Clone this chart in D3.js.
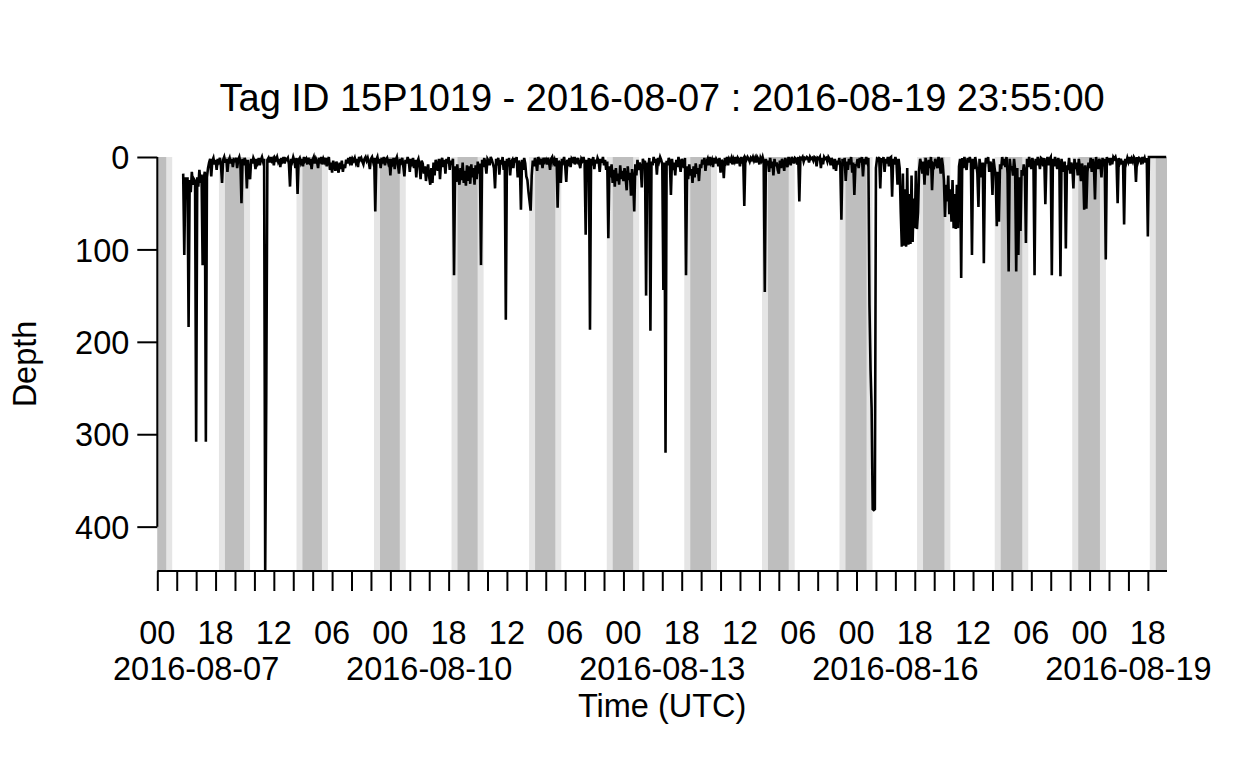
<!DOCTYPE html>
<html>
<head>
<meta charset="utf-8">
<script src="https://cdn.jsdelivr.net/npm/d3@7"></script>
<style>
	body { margin: 0; background: #fff; }
	#chart { width: 1248px; height: 768px; }
	#chart text { font-family: "Liberation Sans", Arial, Helvetica, sans-serif; fill: #000; }
</style>
</head>
<body>
<div id="chart"></div>
<script>
"use strict"

// depth (m) every 20 minutes, one array per UTC day; null = tag not yet recording
const aug07 = [null,null,null,null,null,null,null,null,null,null,null,null,null,null,null,null,null,null,null,null,null,null,null,null,
	18,106,22,35,22,184,25,38,16,30,24,26,308,22,32,14,28,19,117,24,16,308,22,12,
	6,2,21,4,1,8,3,14,2,5,1,9,28,3,0,6,2,16,4,1,7,2,11,3];
const aug08 = [4,1,12,3,0,6,50,2,9,1,5,34,3,18,24,2,7,1,4,13,2,6,1,9,3,0,5,2,448,257,3,1,6,0,4,2,9,1,3,0,
	5,2,11,1,4,0,7,2,3,1,8,32,2,5,0,4,12,1,40,3,1,6,2,10,0,4,2,8,1,5,2,13];
const aug09 = [3,0,7,2,5,12,1,4,0,8,2,5,1,10,3,0,14,6,17,4,9,15,5,11,17,6,13,4,16,8,12,3,7,1,5,0,9,2,4,1,
	6,2,11,0,3,1,5,8,2,0,4,1,6,13,2,0,5,1,59,3,0,7,2,12,1,4,0,9,3,1,6,2];
const aug10 = [20,2,6,1,13,3,0,8,18,2,5,1,10,21,3,7,0,4,16,2,6,1,12,3,22,5,2,9,24,4,7,18,10,26,14,8,22,30,12,28,
	6,20,3,9,15,2,24,5,1,11,3,18,2,7,0,14,4,8,2,128,10,27,8,22,30,12,25,6,28,15,31,9];
const aug11 = [26,10,29,8,22,12,30,9,24,5,18,7,117,3,11,1,6,18,2,4,9,0,3,7,12,34,2,5,1,19,3,8,0,14,4,176,2,10,1,20,
	5,3,12,1,6,0,22,4,8,57,3,14,1,7,21,25,38,48,58,20,4,10,1,6,15,0,3,8,2,12,1,5];
const aug12 = [3,8,1,5,14,2,0,6,3,10,1,55,4,7,28,2,5,0,9,27,3,6,1,11,2,4,0,8,3,5,1,7,12,2,4,0,6,84,3,9,
	1,187,2,5,0,13,3,7,1,4,16,2,6,0,9,3,14,5,88,10,22,8,28,14,32,12,26,18,30,9,24,15];
const aug13 = [26,12,22,36,10,25,17,42,13,24,59,8,20,3,14,6,11,33,2,7,4,150,6,12,1,188,5,9,0,6,2,19,1,5,0,3,8,144,6,320,
	4,9,1,5,41,2,14,6,20,3,11,0,8,16,2,5,12,1,128,10,24,8,20,13,28,10,22,7,18,12,26,8];
const aug14 = [12,3,8,1,15,5,2,9,0,6,3,11,1,7,2,4,10,1,17,3,6,23,1,5,0,9,2,4,1,8,2,5,0,7,1,3,10,0,4,2,
	53,1,3,0,2,5,1,3,0,4,1,6,0,2,8,1,4,0,5,146,2,9,4,16,1,12,5,20,2,10,6,14];
const aug15 = [18,4,12,2,7,15,1,6,11,0,4,9,0,3,7,1,2,8,0,48,1,2,0,5,1,2,0,1,6,0,2,1,4,0,1,10,1,2,0,12,
	1,8,0,2,1,5,0,2,9,1,5,13,2,15,4,8,1,11,68,2,9,1,26,5,14,2,8,0,17,6,41,9];
const aug16 = [9,2,12,1,6,0,21,2,8,0,5,1,160,230,272,381,382,381,12,2,3,0,34,1,6,0,16,2,7,0,10,1,0,43,2,8,0,5,30,2,
	12,60,97,18,96,35,97,12,95,40,94,20,92,45,77,15,78,60,14,2,8,18,5,30,1,9,20,3,12,0,36,8];
const aug17 = [10,2,7,12,0,6,18,1,9,25,65,30,48,20,62,35,70,25,77,40,78,30,77,10,2,131,1,12,0,8,14,1,6,0,5,106,2,13,0,7,
	18,54,2,11,22,6,115,12,1,7,0,16,5,9,41,2,12,20,75,16,70,8,13,0,9,2,11,0,18,124,2,14];
const aug18 = [10,20,2,14,124,12,106,22,80,14,20,8,16,93,2,11,0,7,13,1,8,128,2,9,0,5,13,1,2,10,1,51,6,0,9,2,0,128,2,10,
	0,6,13,1,7,129,2,11,16,5,99,9,14,1,18,6,10,34,2,13,6,20,2,11,26,7,14,57,9,56,16,6];
const aug19 = [12,1,16,2,9,46,0,8,13,2,6,22,1,10,2,111,0,6,1,9,1,8,0,2,0,5,50,1,6,2,8,4,73,2,6,1,5,0,7,2,
	5,0,2,27,0,5,1,2,8,0,4,1,6,1,86,0,0,0,0,0,0,0,0,0,0,0,0,0,0,0,0,0];

const tagId = "15P1019";
const startTime = "2016-08-07T00:00:00Z";
const endTime = "2016-08-19T23:55:00Z";
const stepMinutes = 20;

const yTicks = [0, 100, 200, 300, 400];
const yMax = 448;
const dateLabels = ["2016-08-07", "2016-08-10", "2016-08-13", "2016-08-16", "2016-08-19"];

// twilight / night limits (UTC hours); evening values on the night's first day, morning values on the next day
const nightDays = ["2016-08-06","2016-08-07","2016-08-08","2016-08-09","2016-08-10","2016-08-11","2016-08-12",
	"2016-08-13","2016-08-14","2016-08-15","2016-08-16","2016-08-17","2016-08-18","2016-08-19"];
const sunsetH  = [19.1, 19.05, 19.0, 18.95, 18.9, 18.85, 18.85, 18.8, 18.8, 18.75, 18.7, 18.7, 18.65, 18.6];
const duskH    = [20.95, 20.9, 20.85, 20.8, 20.75, 20.7, 20.7, 20.65, 20.65, 20.6, 20.55, 20.55, 20.5, 20.45];
const dawnH    = [2.75, 2.8, 2.85, 2.9, 2.95, 2.95, 3.0, 3.05, 3.05, 3.1, 3.15, 3.2, 3.2, 3.25];
const sunriseH = [4.6, 4.65, 4.7, 4.75, 4.8, 4.8, 4.85, 4.9, 4.9, 4.95, 5.0, 5.05, 5.05, 5.1];

let DepthPlot = function(targetID) {
	let self = {
		target: null,
		svg: null,
		width: 1248,
		height: 768,
		plot: { left: 157.3, right: 1167, top: 157, bottom: 571 },
		fontSize: 32.5,
		xScale: d3.scaleUtc(),
		yScale: d3.scaleLinear(),
		data: [],
	};

	function data() {
		let t0 = new Date(startTime).getTime();
		let all = [aug07, aug08, aug09, aug10, aug11, aug12, aug13, aug14, aug15, aug16, aug17, aug18, aug19].flat();
		self.data = all.map((d, i) => ({ time: new Date(t0 + i * stepMinutes * 60000), depth: d }));
		return this;
	}

	function draw() {
		let p = self.plot;
		self.target = d3.select(targetID);
		self.svg = self.target.append("svg")
			.attr("width", self.width)
			.attr("height", self.height);

		self.xScale.domain([new Date(startTime), new Date(endTime)]).range([p.left, p.right]);
		self.yScale.domain([0, yMax]).range([p.top, p.bottom]);

		drawNights();

		let line = d3.line()
			.defined(d => d.depth != null)
			.x(d => self.xScale(d.time))
			.y(d => self.yScale(d.depth));

		self.svg.append("path")
			.datum(self.data)
			.attr("fill", "none")
			.attr("stroke", "#000")
			.attr("stroke-width", 2.6)
			.attr("stroke-linejoin", "miter")
			.attr("d", line);

		drawAxes();

		self.svg.append("text")
			.attr("x", (p.left + p.right) / 2)
			.attr("y", 111)
			.attr("text-anchor", "middle")
			.attr("font-size", 38)
			.text("Tag ID " + tagId + " - " + startTime.slice(0, 10) + " : " + endTime.slice(0, 10) + " " + endTime.slice(11, 19));
	}

	function drawNights() {
		let p = self.plot;
		let hr = (day, h, plus) => new Date(new Date(day + "T00:00:00Z").getTime() + (h + plus * 24) * 3600000);
		let clip = v => Math.max(p.left, Math.min(p.right, v));
		let g = self.svg.append("g");

		nightDays.forEach((day, i) => {
			let a = clip(self.xScale(hr(day, sunsetH[i], 0))), b = clip(self.xScale(hr(day, sunriseH[i], 1)));
			if (b > a) g.append("rect").attr("x", a).attr("y", p.top).attr("width", b - a).attr("height", p.bottom - p.top).attr("fill", "#e5e5e5");
			let c = clip(self.xScale(hr(day, duskH[i], 0))), e = clip(self.xScale(hr(day, dawnH[i], 1)));
			if (e > c) g.append("rect").attr("x", c).attr("y", p.top).attr("width", e - c).attr("height", p.bottom - p.top).attr("fill", "#bebebe");
		});
	}

	function drawAxes() {
		let p = self.plot;
		let fs = self.fontSize;
		let t0 = new Date(startTime).getTime();
		let ticks = d3.utcHour.every(6).range(new Date(startTime), new Date(endTime));

		// x axis
		let gx = self.svg.append("g")
			.attr("transform", `translate(0,${p.bottom})`)
			.call(d3.axisBottom(self.xScale).tickValues(ticks).tickSize(20).tickFormat(""));
		gx.select(".domain").remove();
		gx.selectAll(".tick line").attr("stroke", "#000").attr("stroke-width", 2);
		gx.append("line").attr("x1", p.left).attr("x2", p.right).attr("stroke", "#000").attr("stroke-width", 2);

		let labelled = ticks.filter(t => ((t.getTime() - t0) / 3600000) % 18 === 0);
		self.svg.append("g").selectAll("text")
			.data(labelled)
			.enter().append("text")
				.attr("x", d => self.xScale(d))
				.attr("y", 643.5)
				.attr("text-anchor", "middle")
				.attr("font-size", fs)
				.text(d3.utcFormat("%H"));

		// date names sit at noon of their day
		self.svg.append("g").selectAll("text")
			.data(dateLabels)
			.enter().append("text")
				.attr("x", d => self.xScale(new Date(d + "T12:00:00Z")))
				.attr("y", 679.5)
				.attr("text-anchor", "middle")
				.attr("font-size", fs)
				.text(d => d);

		self.svg.append("text")
			.attr("x", (p.left + p.right) / 2)
			.attr("y", 717)
			.attr("text-anchor", "middle")
			.attr("font-size", fs)
			.text("Time (UTC)");

		// y axis
		let gy = self.svg.append("g")
			.attr("transform", `translate(${p.left},0)`)
			.call(d3.axisLeft(self.yScale).tickValues(yTicks).tickSize(20).tickPadding(8));
		gy.select(".domain").remove();
		gy.selectAll(".tick line").attr("stroke", "#000").attr("stroke-width", 2);
		gy.selectAll(".tick text").attr("font-size", fs).attr("dy", "0.36em").attr("font-family", null);
		gy.append("line")
			.attr("y1", self.yScale(yTicks[0]))
			.attr("y2", self.yScale(yTicks[yTicks.length - 1]))
			.attr("stroke", "#000").attr("stroke-width", 2);

		self.svg.append("text")
			.attr("transform", `translate(36,${(p.top + p.bottom) / 2}) rotate(-90)`)
			.attr("text-anchor", "middle")
			.attr("font-size", fs)
			.text("Depth");
	}

	return {
		data,
		draw,
	};
}

DepthPlot("#chart").data().draw();
</script>
</body>
</html>
